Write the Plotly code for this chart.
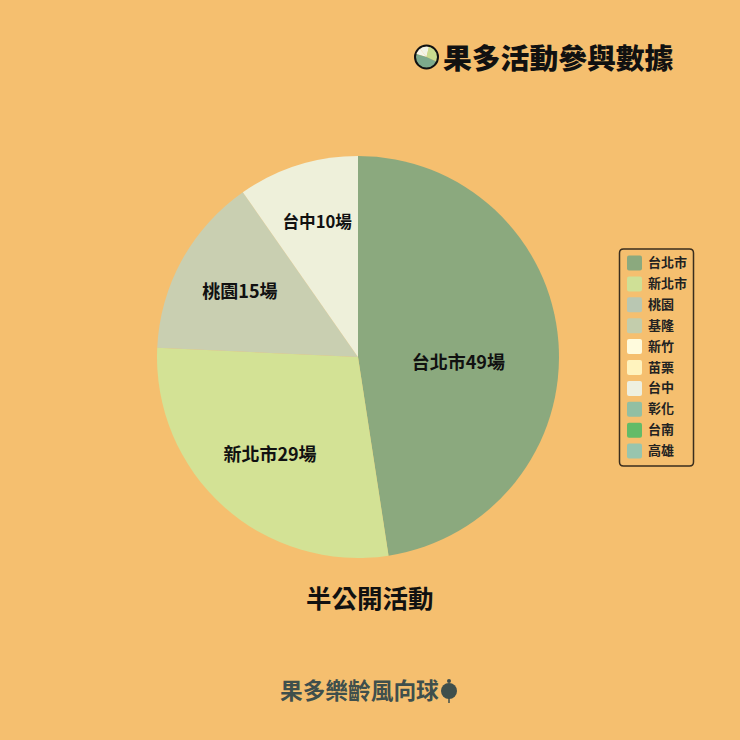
import plotly.graph_objects as go

W = 740
FONT = "Noto Sans CJK TC"
BG = "#F5BF6F"
INK = "#111111"
SLATE = "#3F4F4C"

categories = ["台北市", "新北市", "桃園", "基隆", "新竹", "苗栗", "台中", "彰化", "台南", "高雄"]
sessions = [49, 29, 15, 0, 0, 0, 10, 0, 0, 0]
slice_colors = ["#8BA97E", "#D3E295", "#C9CFB1", "#C5CFAB", "#FFFBDD", "#FFF3BE",
                "#EEF0DA", "#92BFA3", "#63BB68", "#98C5AE"]
legend_colors = ["#8BA97E", "#CFE096", "#B9C7B2", "#C3CDAC", "#FFFBDD", "#FFF3BE",
                 "#EEF0E0", "#92BFA3", "#63BB68", "#98C5AE"]
icon_colors = ["#7DAA8C", "#C9DC8F", "#F2F4E6", "#C5CFAB", "#FFFBDD", "#FFF3BE",
               "#F6F6EA", "#92BFA3", "#63BB68", "#98C5AE"]
title_text = "果多活動參與數據"
subtitle_text = "半公開活動"
brand_text = "果多樂齡風向球"


def px(x):
    return x / W


def py(y):
    return 1 - y / W


def rounded_rect(x0, y0, x1, y1, r):
    return (f"M {px(x0 + r)},{py(y0)} L {px(x1 - r)},{py(y0)} Q {px(x1)},{py(y0)} {px(x1)},{py(y0 + r)} "
            f"L {px(x1)},{py(y1 - r)} Q {px(x1)},{py(y1)} {px(x1 - r)},{py(y1)} "
            f"L {px(x0 + r)},{py(y1)} Q {px(x0)},{py(y1)} {px(x0)},{py(y1 - r)} "
            f"L {px(x0)},{py(y0 + r)} Q {px(x0)},{py(y0)} {px(x0 + r)},{py(y0)} Z")


# blank lines and non-breaking spaces nudge each label inside its slice, as in the reference
NB = "\u00a0"
lead = {"台北市": NB + "<br>", "新北市": NB + "<br>", "桃園": NB * 2, "台中": NB + "<br>" + NB * 3}
trail = {"新北市": NB * 6}
slice_text = [f"{lead.get(c, '')}{c}{v}場{trail.get(c, '')}" if v else "" for c, v in zip(categories, sessions)]

fig = go.Figure()
fig.add_trace(go.Pie(
    labels=categories,
    values=sessions,
    text=slice_text,
    textinfo="text",
    textposition="inside",
    insidetextorientation="horizontal",
    insidetextfont=dict(family=FONT, size=18, color=INK, weight=600),
    marker=dict(colors=slice_colors, line=dict(width=0)),
    sort=False,
    direction="clockwise",
    rotation=0,
    domain=dict(x=[px(157), px(559)], y=[py(558), py(156)]),
    automargin=False,
    showlegend=False,
))
# small title icon
fig.add_trace(go.Pie(
    values=sessions[::-1],
    labels=categories[::-1],
    textinfo="none",
    marker=dict(colors=icon_colors[::-1], line=dict(width=0)),
    sort=False,
    direction="clockwise",
    rotation=286,
    domain=dict(x=[px(415), px(438)], y=[py(68.5), py(45.5)]),
    automargin=False,
    showlegend=False,
    hoverinfo="skip",
))

shapes = [
    dict(type="circle", xref="paper", yref="paper",
         x0=px(415), x1=px(438), y0=py(68.5), y1=py(45.5),
         line=dict(color=INK, width=2), fillcolor="rgba(0,0,0,0)", layer="above"),
    dict(type="path", xref="paper", yref="paper",
         path=rounded_rect(619.5, 249, 693.5, 466, 4),
         line=dict(color="#3A2E1E", width=1.5), fillcolor="rgba(0,0,0,0)", layer="above"),
    dict(type="circle", xref="paper", yref="paper",
         x0=px(441), x1=px(457), y0=py(699), y1=py(683),
         line=dict(width=0), fillcolor=SLATE, layer="above"),
    dict(type="circle", xref="paper", yref="paper",
         x0=px(447), x1=px(451), y0=py(683), y1=py(679),
         line=dict(width=0), fillcolor=SLATE, layer="above"),
    dict(type="line", xref="paper", yref="paper",
         x0=px(449), x1=px(449), y0=py(698), y1=py(703),
         line=dict(color=SLATE, width=1.5), layer="above"),
]
annotations = [
    dict(text=title_text, x=px(441), y=py(56), xref="paper", yref="paper",
         xanchor="left", yanchor="middle", showarrow=False,
         font=dict(family=FONT, size=28.8, color=INK, weight=900)),
    dict(text=subtitle_text, x=px(370), y=py(596), xref="paper", yref="paper",
         xanchor="center", yanchor="middle", showarrow=False,
         font=dict(family=FONT, size=25.5, color=INK, weight=700)),
    dict(text=brand_text, x=px(278), y=py(689), xref="paper", yref="paper",
         xanchor="left", yanchor="middle", showarrow=False,
         font=dict(family=FONT, size=22.7, color=SLATE, weight=700)),
]

# Hand-built legend (rounded swatches, tight spacing) driven by the category lists
ROW_TOP = 263
ROW_STEP = 20.9
for i, (name, colour) in enumerate(zip(categories, legend_colors)):
    cy = ROW_TOP + i * ROW_STEP
    shapes.append(dict(type="path", xref="paper", yref="paper",
                       path=rounded_rect(627, cy - 7.5, 642, cy + 7.5, 2),
                       line=dict(width=0), fillcolor=colour, layer="above"))
    annotations.append(dict(text=name, x=px(645.5), y=py(cy - 1.5), xref="paper", yref="paper",
                            xanchor="left", yanchor="middle", showarrow=False,
                            font=dict(family=FONT, size=13, color="#222222", weight=600)))

fig.update_layout(
    width=W,
    height=W,
    margin=dict(l=0, r=0, t=0, b=0),
    paper_bgcolor=BG,
    plot_bgcolor=BG,
    font=dict(family=FONT, color=INK),
    showlegend=False,
    shapes=shapes,
    annotations=annotations,
)

fig.write_html("out.html", config=dict(displayModeBar=False),
               post_script="document.body.style.margin='0';document.documentElement.style.overflow='hidden';")
